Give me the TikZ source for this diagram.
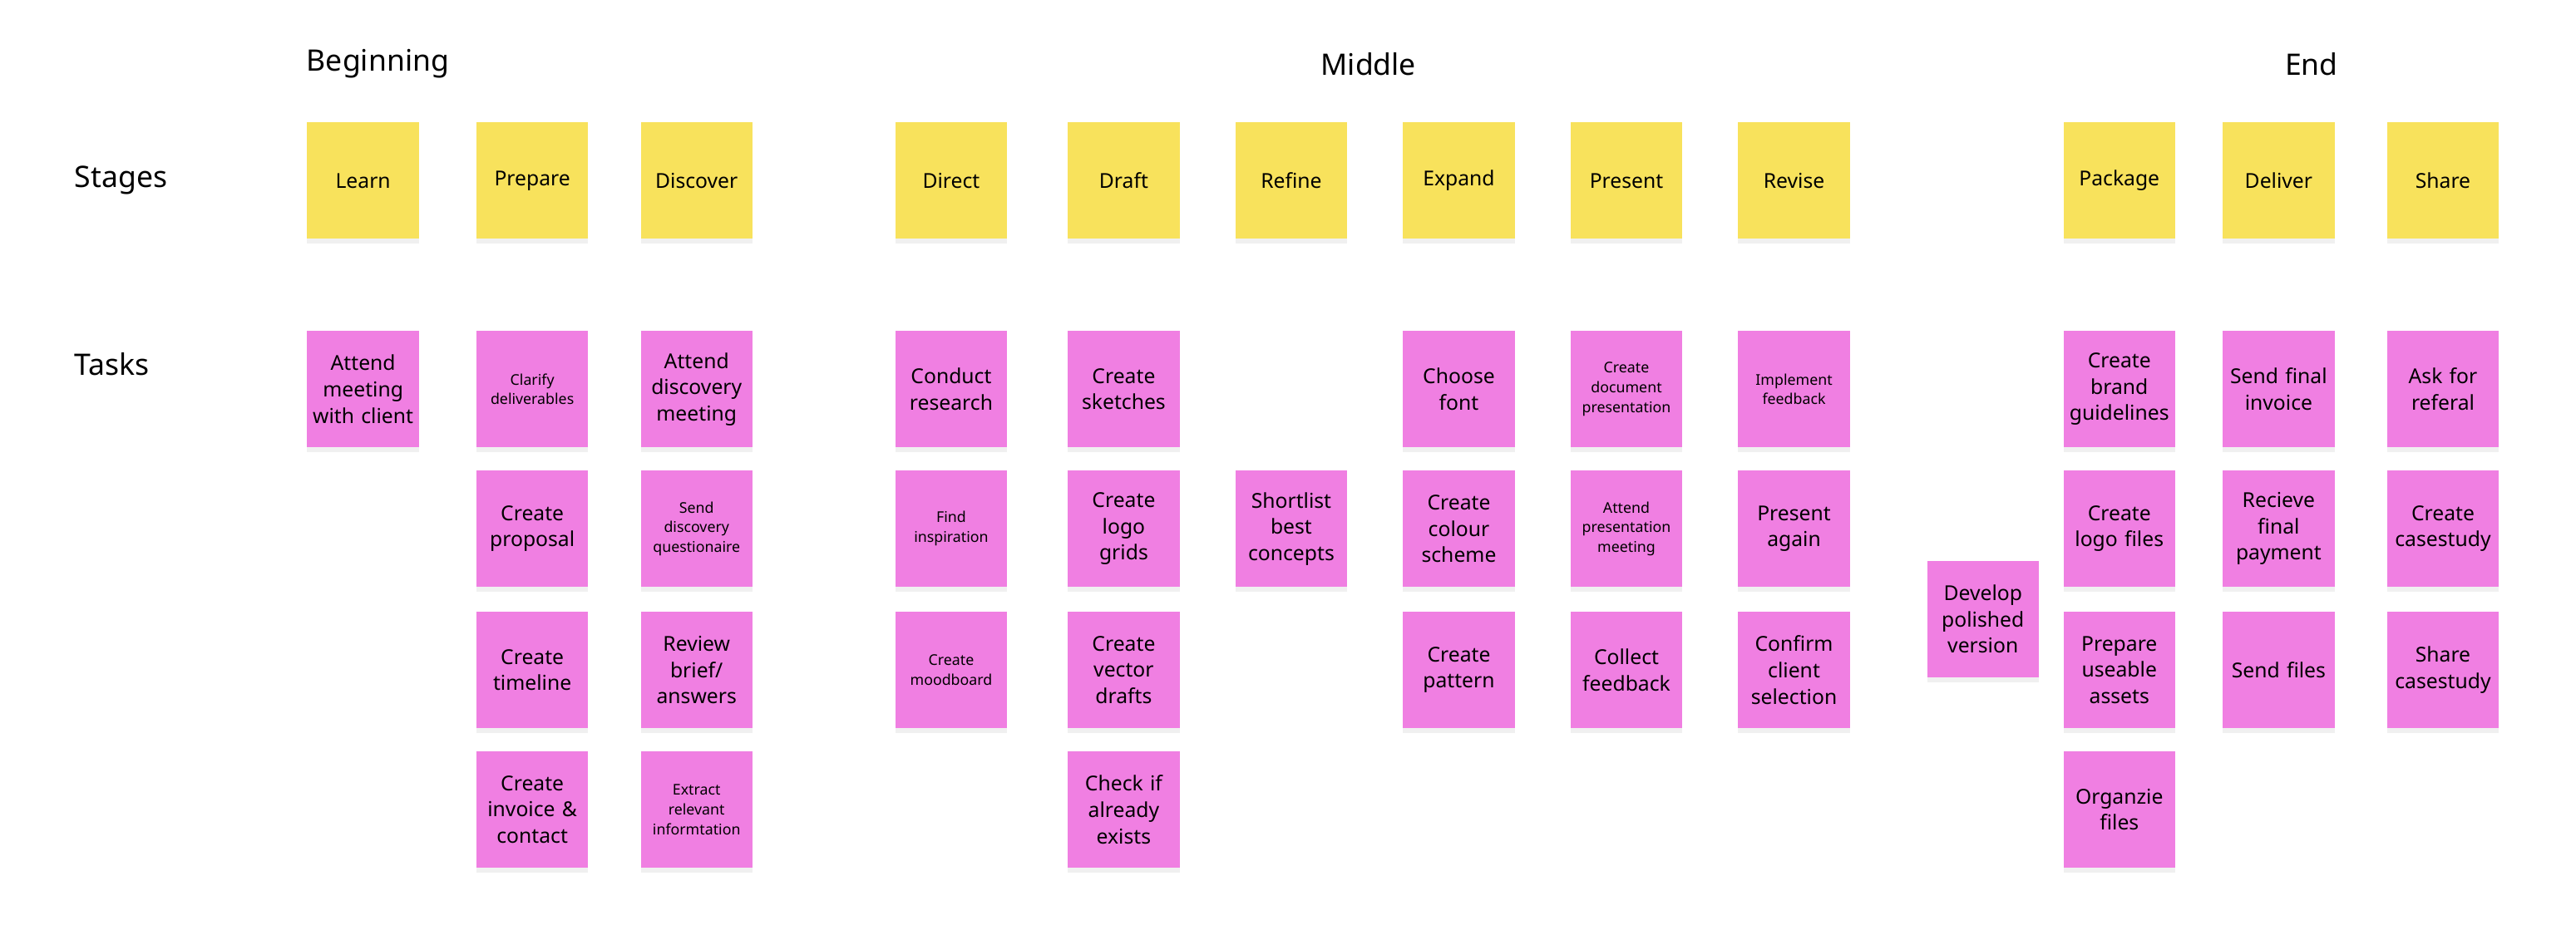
\documentclass[tikz,border=0pt]{standalone}
\usepackage{fontspec}
\setmainfont{Noto Sans}
\usetikzlibrary{shadows}
\definecolor{stickyyellow}{HTML}{F8E25C}
\definecolor{stickypink}{HTML}{F07FE2}
\begin{document}
\begin{tikzpicture}[x=1pt,y=-1pt,
  note/.style={minimum width=68pt,minimum height=71pt,inner sep=1pt,align=center,text width=64pt,
    drop shadow={opacity=0.12,shadow xshift=0pt,shadow yshift=-3pt},font=\fontsize{12.5}{16}\selectfont},
  stage/.style={note,fill=stickyyellow},
  task/.style={note,fill=stickypink},
  small/.style={font=\fontsize{9}{12}\selectfont},
  head/.style={font=\bfseries\fontsize{18}{22}\selectfont}]
\useasboundingbox (0,0) rectangle (1568,566);

\node[head] (beg) at (230,39) {Beginning};
\node[head] (mid) at (833,39) {Middle};
\node[head] (end) at (1407,39) {End};
\node[head,anchor=west] (stages) at (42,110) {Stages};
\node[head,anchor=west] (tasks) at (42,222) {Tasks};

\node[stage] (learn) at (221,110) {Learn};
\node[stage] (prepare) at (324,110) {Prepare};
\node[stage] (discover) at (424,110) {Discover};
\node[stage] (direct) at (579,110) {Direct};
\node[stage] (draft) at (684,110) {Draft};
\node[stage] (refine) at (786,110) {Refine};
\node[stage] (expand) at (888,110) {Expand};
\node[stage] (present) at (990,110) {Present};
\node[stage] (revise) at (1092,110) {Revise};
\node[stage] (package) at (1290,110) {Package};
\node[stage] (deliver) at (1387,110) {Deliver};
\node[stage] (share) at (1487,110) {Share};

\node[task] (attendclient) at (221,237) {Attend\\meeting\\with client};

\node[task,small] (clarify) at (324,237) {Clarify\\deliverables};
\node[task] (proposal) at (324,322) {Create\\proposal};
\node[task] (timeline) at (324,408) {Create\\timeline};
\node[task] (invoice) at (324,493) {Create\\invoice \&\\contact};

\node[task] (discmeeting) at (424,237) {Attend\\discovery\\meeting};
\node[task,small] (questionaire) at (424,322) {Send\\discovery\\questionaire};
\node[task] (review) at (424,408) {Review\\brief/\\answers};
\node[task,small] (extract) at (424,493) {Extract\\relevant\\informtation};

\node[task] (research) at (579,237) {Conduct\\research};
\node[task,small] (inspiration) at (579,322) {Find\\inspiration};
\node[task,small] (moodboard) at (579,408) {Create\\moodboard};

\node[task] (sketches) at (684,237) {Create\\sketches};
\node[task] (grids) at (684,322) {Create\\logo\\grids};
\node[task] (vector) at (684,408) {Create\\vector\\drafts};
\node[task] (exists) at (684,493) {Check if\\already\\exists};

\node[task] (shortlist) at (786,322) {Shortlist\\best\\concepts};

\node[task] (font) at (888,237) {Choose\\font};
\node[task] (colour) at (888,322) {Create\\colour\\scheme};
\node[task] (pattern) at (888,408) {Create\\pattern};

\node[task,small] (docpres) at (990,237) {Create\\document\\presentation};
\node[task,small] (presmeeting) at (990,322) {Attend\\presentation\\meeting};
\node[task] (collect) at (990,408) {Collect\\feedback};

\node[task,small] (implement) at (1092,237) {Implement\\feedback};
\node[task] (again) at (1092,322) {Present\\again};
\node[task] (confirm) at (1092,408) {Confirm\\client\\selection};

\node[task] (polished) at (1207,377) {Develop\\polished\\version};

\node[task] (guidelines) at (1290,237) {Create\\brand\\guidelines};
\node[task] (logofiles) at (1290,322) {Create\\logo files};
\node[task] (assets) at (1290,408) {Prepare\\useable\\assets};
\node[task] (organize) at (1290,493) {Organzie\\files};

\node[task] (finalinvoice) at (1387,237) {Send final\\invoice};
\node[task] (payment) at (1387,322) {Recieve\\final\\payment};
\node[task] (sendfiles) at (1387,408) {Send files};

\node[task] (referal) at (1487,237) {Ask for\\referal};
\node[task] (casestudy) at (1487,322) {Create\\casestudy};
\node[task] (sharecase) at (1487,408) {Share\\casestudy};
\end{tikzpicture}
\end{document}
